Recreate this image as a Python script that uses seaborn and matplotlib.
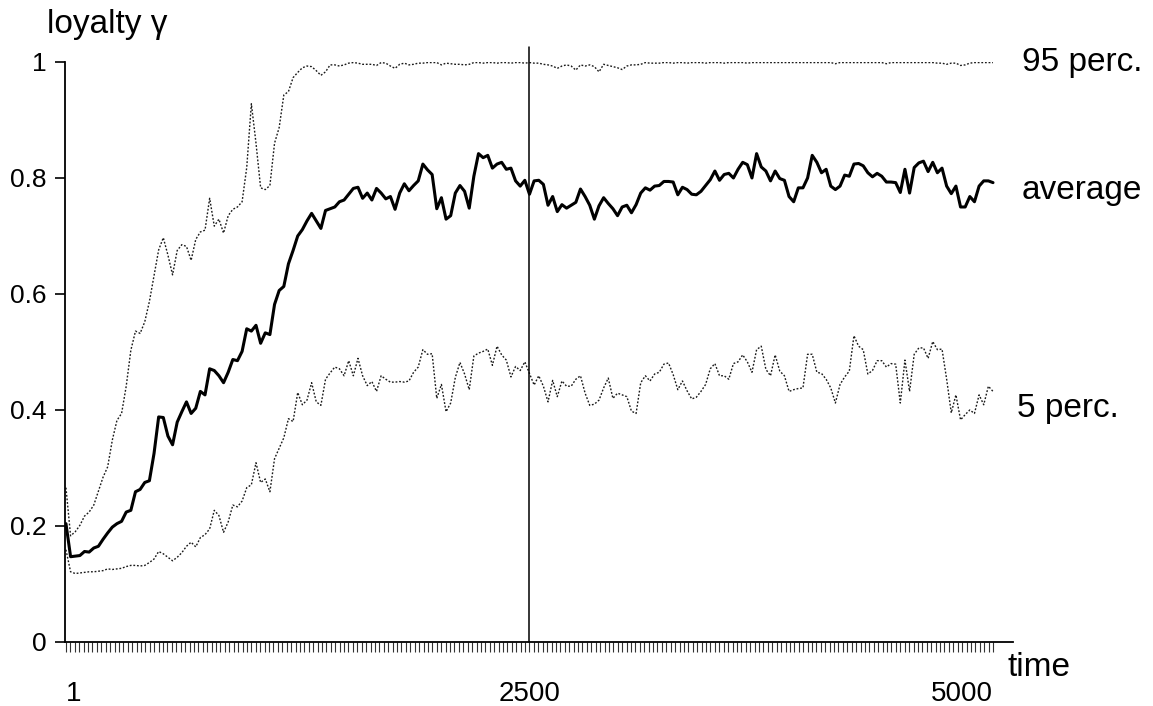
import numpy as np
import pandas as pd
import seaborn as sns
import matplotlib.pyplot as plt
from matplotlib.ticker import FixedLocator

# loyalty over time, recorded every 25 steps
time = np.arange(0, 5001, 25)

average = [
    0.204, 0.147, 0.148, 0.149, 0.156, 0.155, 0.162, 0.165, 0.177, 0.188,
    0.198, 0.204, 0.208, 0.224, 0.227, 0.259, 0.263, 0.275, 0.278, 0.325,
    0.388, 0.387, 0.355, 0.340, 0.379, 0.397, 0.414, 0.394, 0.403, 0.432,
    0.426, 0.471, 0.468, 0.459, 0.447, 0.465, 0.487, 0.485, 0.501, 0.540,
    0.536, 0.546, 0.515, 0.533, 0.530, 0.582, 0.606, 0.613, 0.652, 0.675,
    0.700,
    0.711, 0.726, 0.739, 0.726, 0.713, 0.744, 0.747, 0.750, 0.759, 0.762,
    0.772, 0.782, 0.784, 0.765, 0.774, 0.762, 0.782, 0.774, 0.764, 0.768,
    0.746, 0.774, 0.790, 0.778, 0.787, 0.795, 0.824, 0.814, 0.806, 0.747,
    0.766, 0.729, 0.735, 0.774, 0.787, 0.777, 0.748, 0.803, 0.842, 0.835,
    0.839, 0.817, 0.824, 0.827, 0.815, 0.817, 0.795, 0.786, 0.796, 0.772,
    0.795, 0.796, 0.789, 0.753, 0.768, 0.742, 0.754, 0.748, 0.753, 0.758,
    0.781, 0.768, 0.753, 0.729, 0.752, 0.766, 0.756, 0.747, 0.735, 0.750,
    0.753, 0.740, 0.754, 0.774, 0.783, 0.779, 0.786, 0.787, 0.794, 0.794,
    0.793, 0.771, 0.784, 0.780, 0.772, 0.771, 0.777, 0.787, 0.797, 0.812,
    0.796, 0.806, 0.808, 0.800, 0.815, 0.827, 0.823, 0.800, 0.842, 0.819,
    0.812, 0.795, 0.812, 0.799, 0.796, 0.768, 0.759, 0.783, 0.783, 0.800,
    0.839, 0.827, 0.809, 0.815, 0.786, 0.780, 0.786, 0.805, 0.803, 0.824,
    0.825, 0.821, 0.809, 0.802, 0.808, 0.803, 0.793, 0.793, 0.792, 0.775,
    0.815, 0.774, 0.818, 0.826, 0.829, 0.811, 0.827, 0.809, 0.817, 0.786,
    0.773, 0.786, 0.750, 0.750, 0.768, 0.759, 0.786, 0.795, 0.795, 0.792,
]

perc95 = [
    0.266, 0.183, 0.190, 0.201, 0.217, 0.224, 0.236, 0.260, 0.284, 0.302,
    0.348, 0.382, 0.394, 0.441, 0.503, 0.536, 0.532, 0.552, 0.587, 0.632,
    0.676, 0.697, 0.667, 0.633, 0.675, 0.685, 0.682, 0.658, 0.694, 0.707,
    0.710, 0.765, 0.717, 0.729, 0.705, 0.735, 0.746, 0.750, 0.759, 0.818,
    0.928, 0.860, 0.783, 0.780, 0.787, 0.860, 0.887, 0.943, 0.949, 0.973,
    0.982,
    0.990, 0.993, 0.992, 0.985, 0.977, 0.983, 0.995, 0.995, 0.993, 0.995,
    0.998, 0.999, 0.998, 0.996, 0.996, 0.996, 0.994, 0.999, 0.998, 0.993,
    0.989, 0.996, 0.998, 0.995, 0.996, 0.998, 0.998, 0.999, 0.999, 0.999,
    0.995, 0.998, 0.997, 0.996, 0.996, 0.995, 0.996, 0.999, 0.999, 0.998,
    0.999, 0.999, 0.998, 0.999, 0.999, 0.998, 0.999, 0.999, 0.998, 0.999,
    0.998, 0.998, 0.996, 0.995, 0.993, 0.989, 0.993, 0.995, 0.993, 0.986,
    0.995, 0.993, 0.995, 0.992, 0.983, 0.996, 0.994, 0.992, 0.990, 0.987,
    0.993, 0.995, 0.995, 0.996, 0.999, 0.998, 0.998, 0.998, 0.999, 0.999,
    0.998, 0.999, 0.999, 0.998, 0.999, 0.999, 0.999, 0.998, 0.999, 0.999,
    0.999, 0.998, 0.999, 0.999, 0.999, 0.999, 0.998, 0.999, 0.999, 0.999,
    0.999, 0.999, 0.999, 0.999, 0.999, 0.999, 0.999, 0.999, 0.999, 0.999,
    0.999, 0.999, 0.999, 0.999, 0.999, 0.997, 0.999, 0.999, 0.999, 0.999,
    0.999, 0.999, 0.999, 0.999, 0.999, 0.999, 0.997, 0.999, 0.999, 0.999,
    0.999, 0.999, 0.999, 0.999, 0.999, 0.999, 0.999, 0.998, 0.998, 0.996,
    0.998, 0.998, 0.994, 0.995, 0.998, 0.999, 0.999, 0.999, 0.999, 0.999,
]

perc5 = [
    0.159, 0.121, 0.118, 0.119, 0.120, 0.121, 0.121, 0.122, 0.123, 0.126,
    0.125, 0.126, 0.127, 0.130, 0.132, 0.132, 0.131, 0.132, 0.137, 0.143,
    0.156, 0.152, 0.146, 0.140, 0.146, 0.154, 0.165, 0.172, 0.164, 0.180,
    0.185, 0.195, 0.227, 0.218, 0.189, 0.207, 0.236, 0.233, 0.243, 0.266,
    0.271, 0.309, 0.275, 0.281, 0.259, 0.316, 0.334, 0.352, 0.385, 0.380,
    0.430,
    0.409, 0.417, 0.447, 0.414, 0.408, 0.453, 0.464, 0.474, 0.471, 0.459,
    0.485, 0.459, 0.489, 0.459, 0.442, 0.449, 0.432, 0.459, 0.453, 0.448,
    0.448, 0.449, 0.448, 0.450, 0.465, 0.474, 0.504, 0.496, 0.497, 0.420,
    0.444, 0.397, 0.412, 0.456, 0.482, 0.462, 0.435, 0.493, 0.498, 0.501,
    0.505, 0.477, 0.510, 0.495, 0.486, 0.457, 0.475, 0.468, 0.483, 0.463,
    0.443, 0.459, 0.441, 0.414, 0.451, 0.423, 0.450, 0.441, 0.441, 0.453,
    0.459, 0.429, 0.408, 0.410, 0.417, 0.438, 0.455, 0.420, 0.429, 0.426,
    0.423, 0.398, 0.394, 0.447, 0.459, 0.450, 0.462, 0.465, 0.479, 0.481,
    0.461, 0.435, 0.450, 0.433, 0.419, 0.422, 0.432, 0.444, 0.471, 0.480,
    0.459, 0.459, 0.453, 0.480, 0.483, 0.495, 0.483, 0.465, 0.504, 0.510,
    0.470, 0.459, 0.495, 0.467, 0.459, 0.432, 0.435, 0.437, 0.438, 0.496,
    0.496, 0.465, 0.463, 0.453, 0.438, 0.412, 0.444, 0.457, 0.467, 0.528,
    0.510, 0.504, 0.462, 0.468, 0.485, 0.485, 0.474, 0.480, 0.479, 0.412,
    0.486, 0.432, 0.496, 0.507, 0.507, 0.489, 0.518, 0.504, 0.505, 0.453,
    0.395, 0.426, 0.383, 0.392, 0.400, 0.394, 0.426, 0.409, 0.441, 0.432,
]

series_labels = ["95 perc.", "average", "5 perc."]
x_labels = ["1", "2500", "5000"]
y_ticks = [0, 0.2, 0.4, 0.6, 0.8, 1]

df = pd.DataFrame({"time": time, "average": average, "p95": perc95, "p5": perc5})

sns.set_style("ticks")
plt.rcParams["font.family"] = ["Liberation Sans", "DejaVu Sans"]
plt.rcParams["text.color"] = "black"
plt.rcParams["xtick.color"] = "black"
plt.rcParams["ytick.color"] = "black"

fig = plt.figure(figsize=(11.53, 7.06), dpi=100)
ax = fig.add_axes([0.0564, 0.0907, 0.8222, 0.8215])

dot = (0, (1.3, 1.3))
sns.lineplot(data=df, x="time", y="p95", ax=ax, color="#1a1a1a", lw=1.0, linestyle=dot)
sns.lineplot(data=df, x="time", y="p5", ax=ax, color="#1a1a1a", lw=1.0, linestyle=dot)
sns.lineplot(data=df, x="time", y="average", ax=ax, color="black", lw=2.2)

# marker line at half time
ax.plot([2500, 2500], [0, 1.025], color="black", lw=1.1, clip_on=False)

ax.set_xlim(-5, 5108)
ax.set_ylim(0, 1)
ax.set_xlabel("")
ax.set_ylabel("")
sns.despine(ax=ax)
for s in ["left", "bottom"]:
    ax.spines[s].set_linewidth(1.3)
    ax.spines[s].set_color("black")

ax.set_yticks(y_ticks)
ax.set_yticklabels(["0", "0.2", "0.4", "0.6", "0.8", "1"], fontsize=19, color="black")
ax.tick_params(axis="y", length=7, width=1.2, pad=6, color="black")

ax.set_xticks([0, 2500, 5000])
ax.set_xticklabels(x_labels, fontsize=20, color="black")
ax.xaxis.set_minor_locator(FixedLocator(np.linspace(0, 5000, 211)))
ax.tick_params(axis="x", which="both", length=7, width=0.8, color="#333333")
ax.tick_params(axis="x", which="major", pad=21)
xl = ax.get_xticklabels()
xl[0].set_ha("left")
xl[2].set_ha("right")

fig.text(47 / 1153, 1 - 33 / 706, "loyalty \u03b3", fontsize=24, va="baseline", ha="left")
fig.text(1022 / 1153, 1 - 62 / 706, series_labels[0], fontsize=24, va="center", ha="left")
fig.text(1022 / 1153, 1 - 190 / 706, series_labels[1], fontsize=24, va="center", ha="left")
fig.text(1017 / 1153, 1 - 408 / 706, series_labels[2], fontsize=24, va="center", ha="left")
fig.text(1007 / 1153, 1 - 668 / 706, "time", fontsize=24, va="center", ha="left")

fig.savefig("out.png", dpi=100)
